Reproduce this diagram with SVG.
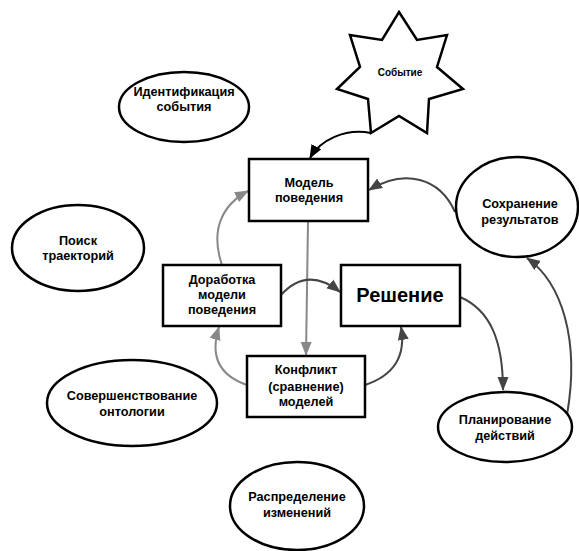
<svg xmlns="http://www.w3.org/2000/svg" width="579" height="551" viewBox="0 0 579 551">
<style>
.box{fill:#fff;stroke:#000;stroke-width:2.5}
.ell{fill:#fff;stroke:#000;stroke-width:2.5}
text{font-family:"Liberation Sans",Arial,sans-serif;font-weight:bold;font-size:12.7px;text-anchor:middle;fill:#000}
.big{font-size:20px}
.c{fill:none;stroke-width:2}
.k{stroke:#000}
.d{stroke:#444}
.g{stroke:#888}
</style>
<defs>
<marker id="ak" markerUnits="userSpaceOnUse" markerWidth="15" markerHeight="12" refX="13" refY="6" orient="auto"><path d="M0,0.5 L14,6 L0,11.5 z" fill="#000"/></marker>
<marker id="ad" markerUnits="userSpaceOnUse" markerWidth="15" markerHeight="12" refX="13" refY="6" orient="auto"><path d="M0,0.5 L14,6 L0,11.5 z" fill="#444"/></marker>
<marker id="ag" markerUnits="userSpaceOnUse" markerWidth="15" markerHeight="12" refX="13" refY="6" orient="auto"><path d="M0,0.5 L14,6 L0,11.5 z" fill="#888"/></marker>
</defs>
<rect width="579" height="551" fill="#fff"/>
<g id="connectors">
<path class="c k" d="M371,133 C345,128 320,140 310,158" marker-end="url(#ak)"/>
<path class="c d" d="M455,212 C440,178 405,168 369,190" marker-end="url(#ad)"/>
<path class="c g" d="M222,265 C210,230 222,205 248,191" marker-end="url(#ag)"/>
<path class="c g" d="M308,222 L306,355" marker-end="url(#ag)"/>
<path class="c g" d="M247,385 C218,375 210,355 219,327" marker-end="url(#ag)"/>
<path class="c d" d="M365,385 C395,375 406,355 401,327" marker-end="url(#ad)"/>
<path class="c d" d="M281,295 C300,274 320,276 340,292" marker-end="url(#ad)"/>
<path class="c d" d="M460,297 C490,310 503,340 503,390" marker-end="url(#ad)"/>
<path class="c d" d="M567,415 C580,340 562,283 527,258" marker-end="url(#ad)"/>
</g>
<g id="event">
<polygon class="box" points="399,12 417,40 447,35 437,67 463,89 429,99 427,133 399,116 371,133 368,99 337,89 360,67 350,35 382,40"/>
<text x="400" y="76" style="font-size:10px">Событие</text>
</g>
<g id="model">
<rect class="box" x="249" y="159" width="119" height="62"/>
<text x="309" y="187">Модель</text>
<text x="309" y="202">поведения</text>
</g>
<g id="dorabotka">
<rect class="box" x="163" y="265" width="118" height="61"/>
<text x="222" y="284">Доработка</text>
<text x="222" y="299">модели</text>
<text x="222" y="314">поведения</text>
</g>
<g id="reshenie">
<rect class="box" x="341" y="265" width="119" height="61"/>
<text class="big" x="400" y="302">Решение</text>
</g>
<g id="konflikt">
<rect class="box" x="247" y="356" width="118" height="61"/>
<text x="306" y="374">Конфликт</text>
<text x="306" y="391">(сравнение)</text>
<text x="306" y="406">моделей</text>
</g>
<g id="identifikaciya">
<ellipse class="ell" cx="184" cy="107" rx="65" ry="35"/>
<text x="184" y="96">Идентификация</text>
<text x="184" y="111">события</text>
</g>
<g id="poisk">
<ellipse class="ell" cx="78" cy="248" rx="66" ry="43"/>
<text x="78" y="245">Поиск</text>
<text x="78" y="260">траекторий</text>
</g>
<g id="sovershenstvovanie">
<ellipse class="ell" cx="132" cy="403" rx="85" ry="43"/>
<text x="132" y="400">Совершенствование</text>
<text x="132" y="416">онтологии</text>
</g>
<g id="raspredelenie">
<ellipse class="ell" cx="297" cy="506" rx="67" ry="44"/>
<text x="297" y="501">Распределение</text>
<text x="297" y="517">изменений</text>
</g>
<g id="sohranenie">
<ellipse class="ell" cx="517" cy="207" rx="61" ry="50"/>
<text x="520" y="208">Сохранение</text>
<text x="520" y="224">результатов</text>
</g>
<g id="planirovanie">
<ellipse class="ell" cx="505" cy="427" rx="67" ry="35"/>
<text x="505" y="424">Планирование</text>
<text x="505" y="440">действий</text>
</g>
</svg>
